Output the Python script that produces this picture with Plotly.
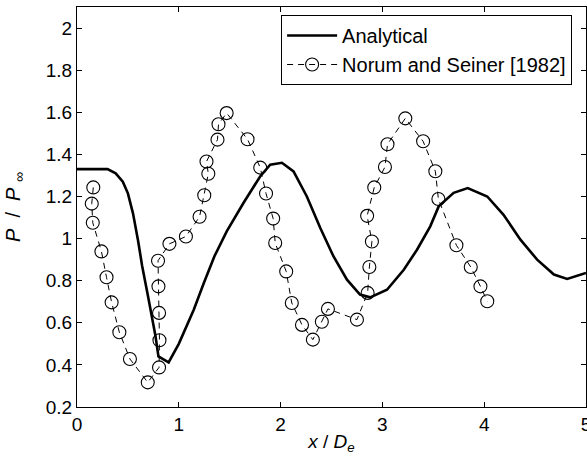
import plotly.graph_objects as go

# Analytical solution
ana_x = [0.0, 0.1, 0.2, 0.3, 0.38, 0.45, 0.5, 0.55, 0.6, 0.64, 0.70, 0.77, 0.80, 0.90,
         1.0, 1.147, 1.246, 1.35, 1.472, 1.635, 1.799, 1.898, 2.013, 2.127, 2.258,
         2.39, 2.52, 2.652, 2.78, 2.88, 3.045, 3.21, 3.34, 3.47, 3.553, 3.70, 3.838,
         4.03, 4.19, 4.356, 4.52, 4.685, 4.815, 5.0]
ana_y = [1.33, 1.33, 1.33, 1.33, 1.31, 1.27, 1.215, 1.12, 0.99, 0.87, 0.72, 0.54, 0.44, 0.412,
         0.50, 0.662, 0.789, 0.916, 1.035, 1.169, 1.295, 1.351, 1.36, 1.319, 1.20,
         1.05, 0.915, 0.805, 0.734, 0.721, 0.757, 0.852, 0.947, 1.058, 1.153, 1.217, 1.24,
         1.20, 1.113, 0.995, 0.90, 0.829, 0.808, 0.837]

# Norum and Seiner [1982] experimental data
exp_x = [0.16, 0.145, 0.155, 0.24, 0.29, 0.34, 0.416, 0.52, 0.695, 0.806, 0.81, 0.806,
         0.80, 0.796, 0.908, 1.07, 1.204, 1.25, 1.29, 1.272, 1.38, 1.39, 1.47, 1.675,
         1.80, 1.857, 1.927, 1.947, 2.055, 2.11, 2.21, 2.317, 2.405, 2.465, 2.75, 2.855,
         2.872, 2.897, 2.85, 2.92, 3.025, 3.05, 3.225, 3.40, 3.52, 3.55, 3.727, 3.868,
         3.963, 4.03]
exp_y = [1.243, 1.166, 1.075, 0.939, 0.816, 0.697, 0.555, 0.428, 0.317, 0.388, 0.517, 0.647,
         0.773, 0.895, 0.975, 1.01, 1.104, 1.206, 1.308, 1.366, 1.47, 1.543, 1.596, 1.472,
         1.337, 1.214, 1.095, 0.979, 0.844, 0.694, 0.59, 0.52, 0.605, 0.666, 0.615, 0.742,
         0.865, 0.986, 1.108, 1.243, 1.34, 1.448, 1.571, 1.462, 1.32, 1.188, 0.968, 0.865,
         0.773, 0.702]

x_ticks = [0, 1, 2, 3, 4, 5]
x_ticktext = ["0", "1", "2", "3", "4", "5"]
y_ticks = [0.2, 0.4, 0.6, 0.8, 1.0, 1.2, 1.4, 1.6, 1.8, 2.0]
y_ticktext = ["0.2", "0.4", "0.6", "0.8", "1", "1.2", "1.4", "1.6", "1.8", "2"]

FONT = "Liberation Sans, Arial, Helvetica, sans-serif"
FS = 19

fig = go.Figure()
fig.add_trace(go.Scatter(
    x=ana_x, y=ana_y, mode="lines", name="Analytical",
    line=dict(color="black", width=2.6),
))
fig.add_trace(go.Scatter(
    x=exp_x, y=exp_y, mode="lines+markers", name="Norum and Seiner [1982]",
    line=dict(color="black", width=1, dash="6px,5px"),
    marker=dict(symbol="circle-open", size=13, color="black", line=dict(width=1.1, color="black")),
))

axis_common = dict(
    showline=True, linecolor="black", linewidth=1, mirror="ticks",
    ticks="inside", ticklen=5, tickcolor="black", tickwidth=1,
    showgrid=False, zeroline=False, automargin=False,
    ticklabeloverflow="allow",
    tickfont=dict(family=FONT, size=FS, color="black"),
)

fig.update_layout(
    width=587, height=460,
    margin=dict(l=77, r=1, t=7, b=53),
    paper_bgcolor="white", plot_bgcolor="white",
    font=dict(family=FONT, size=FS, color="black"),
    xaxis=dict(range=[0, 5], tickvals=x_ticks, ticktext=x_ticktext,
               title=dict(text="<i>x</i> / <i>D</i><sub><i>e</i></sub>", standoff=0,
                          font=dict(family=FONT, size=FS)),
               **axis_common),
    yaxis=dict(range=[0.2, 2.1], tickvals=y_ticks, ticktext=y_ticktext,
               title=dict(text="<i>P</i>  /  <i>P</i> <sub>∞</sub>", standoff=19,
                          font=dict(family=FONT, size=20)),
               **axis_common),
    legend=dict(x=0.401, y=0.98, xanchor="left", yanchor="top",
                bordercolor="black", borderwidth=1, bgcolor="white",
                font=dict(family=FONT, size=20, color="black"),
                itemwidth=50, tracegroupgap=0),
    showlegend=True,
)

fig.write_html("out.html", config={"displayModeBar": False},
               post_script="document.body.style.margin='0px';")
